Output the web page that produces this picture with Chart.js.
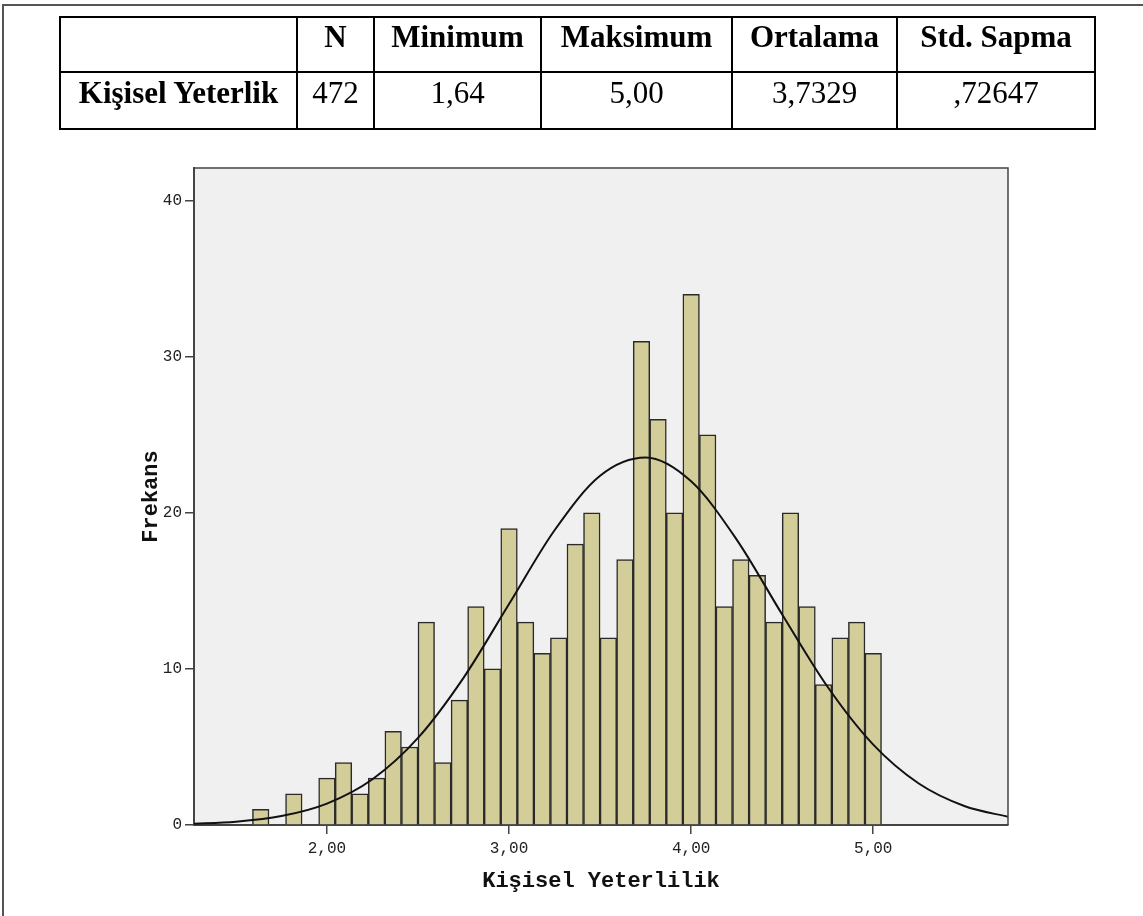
<!DOCTYPE html>
<html>
<head>
<meta charset="utf-8">
<title>Kişisel Yeterlilik</title>
<script src="https://cdn.jsdelivr.net/npm/chart.js"></script>
<style>
  html, body { margin: 0; padding: 0; background: #fff; }
  #page { position: relative; width: 1143px; height: 916px; overflow: hidden; }
  #frame { position: absolute; left: 2px; top: 4px; width: 1200px; height: 1000px;
           border-left: 2px solid #555; border-top: 2px solid #555; }
  #chart { position: absolute; left: 0; top: 0; }
  #table { position: absolute; left: 0; top: 0; z-index: 2; }
  .ln { position: absolute; background: #000; }
  .cell { position: absolute; font-family: "Liberation Serif", "Times New Roman", serif;
          font-size: 31px; line-height: 31px; color: #000; white-space: nowrap; text-align: center; }
  .b { font-weight: bold; }
</style>
</head>
<body>
<div id="page">
  <div id="frame"></div>
  <canvas id="chart" width="1143" height="916"></canvas>
  <div id="table"></div>
</div>
<script>
// descriptive table
const tableHead = ['', 'N', 'Minimum', 'Maksimum', 'Ortalama', 'Std. Sapma'];
const tableRow = ['Kişisel Yeterlik', '472', '1,64', '5,00', '3,7329', ',72647'];

// histogram: score values (means of 11 items) and frequencies
const binMids = [1.6364, 1.7273, 1.8182, 1.9091, 2.0000, 2.0909, 2.1818, 2.2727, 2.3636, 2.4545,
                 2.5455, 2.6364, 2.7273, 2.8182, 2.9091, 3.0000, 3.0909, 3.1818, 3.2727, 3.3636,
                 3.4545, 3.5455, 3.6364, 3.7273, 3.8182, 3.9091, 4.0000, 4.0909, 4.1818, 4.2727,
                 4.3636, 4.4545, 4.5455, 4.6364, 4.7273, 4.8182, 4.9091, 5.0000];
const counts = [1, 0, 2, 0, 3, 4, 2, 3, 6, 5,
                13, 4, 8, 14, 10, 19, 13, 11, 12, 18,
                20, 12, 17, 31, 26, 20, 34, 25, 14, 17,
                16, 13, 20, 14, 9, 12, 13, 11];

// normal curve
const curveX = [1.25, 1.5, 1.75, 2.0, 2.25, 2.5, 2.75, 3.0, 3.25, 3.5,
                3.75, 4.0, 4.25, 4.5, 4.75, 5.0, 5.25, 5.5, 5.75];
const curveY = [0.07, 0.21, 0.57, 1.37, 2.93, 5.58, 9.43, 14.16, 18.89, 22.38,
                23.55, 22.02, 18.29, 13.49, 8.84, 5.15, 2.66, 1.22, 0.50];

const yTicks = [0, 10, 20, 30, 40];
const xTicks = [2, 3, 4, 5];

// ---- table ----
const colX = [60, 297, 374, 541, 732, 897, 1095];
const rowY = [17, 72, 129];
const tbl = document.getElementById('table');
function addDiv(cls, style, text) {
  const d = document.createElement('div');
  d.className = cls;
  Object.assign(d.style, style);
  if (text !== undefined) d.textContent = text;
  tbl.appendChild(d);
}
rowY.forEach(y => addDiv('ln', {left: colX[0] - 1 + 'px', top: y - 1 + 'px', width: (colX[6] - colX[0] + 2) + 'px', height: '2px'}));
colX.forEach(x => addDiv('ln', {left: x - 1 + 'px', top: rowY[0] - 1 + 'px', width: '2px', height: (rowY[2] - rowY[0] + 2) + 'px'}));
tableHead.forEach((t, i) => addDiv('cell b', {left: colX[i] + 'px', width: (colX[i + 1] - colX[i]) + 'px', top: '21px'}, t));
tableRow.forEach((t, i) => addDiv(i === 0 ? 'cell b' : 'cell', {left: colX[i] + 'px', width: (colX[i + 1] - colX[i]) + 'px', top: '77px'}, t));

// ---- chart ----
const plotFrame = {
  id: 'plotFrame',
  beforeDraw(chart) {
    const {ctx, chartArea: a} = chart;
    ctx.save();
    ctx.fillStyle = '#f0f0f0';
    ctx.fillRect(a.left, a.top, a.right - a.left, a.bottom - a.top);
    ctx.restore();
  },
  afterDraw(chart) {
    const {ctx, chartArea: a} = chart;
    ctx.save();
    ctx.strokeStyle = '#444';
    ctx.lineWidth = 1.5;
    ctx.beginPath();
    ctx.moveTo(a.left, a.top);
    ctx.lineTo(a.right, a.top);
    ctx.lineTo(a.right, a.bottom);
    ctx.stroke();
    ctx.restore();
  }
};

const tickFont = {family: '"Liberation Mono", "Courier New", monospace', size: 16};
const titleFont = {family: '"Liberation Mono", "Courier New", monospace', size: 22, weight: 'bold'};

new Chart(document.getElementById('chart').getContext('2d'), {
  type: 'bar',
  data: {
    datasets: [{
      type: 'line',
      order: 0,
      data: curveX.map((x, i) => ({x: x, y: curveY[i]})),
      borderColor: '#111',
      borderWidth: 2,
      pointRadius: 0,
      fill: false,
      cubicInterpolationMode: 'monotone'
    }, {
      type: 'bar',
      order: 1,
      data: binMids.map((x, i) => ({x: x, y: counts[i]})),
      backgroundColor: '#d3ce99',
      borderColor: '#2a2a2a',
      borderWidth: 1.5,
      barPercentage: 1,
      categoryPercentage: 1
    }]
  },
  options: {
    responsive: false,
    animation: false,
    layout: {padding: {left: 130, right: 135, top: 168, bottom: 0}},
    plugins: {legend: {display: false}, tooltip: {enabled: false}},
    scales: {
      x: {
        type: 'linear',
        offset: false,
        min: 1.27,
        max: 5.74,
        afterFit(s) { s.height = 91; },
        afterBuildTicks(s) { s.ticks = xTicks.map(v => ({value: v})); },
        ticks: {
          font: tickFont, color: '#222', padding: 5, maxRotation: 0,
          callback: v => v.toFixed(2).replace('.', ',')
        },
        grid: {offset: false, drawOnChartArea: false, drawTicks: true, tickLength: 9, color: '#444', lineWidth: 1.5},
        border: {display: true, color: '#444', width: 2},
        title: {display: true, text: 'Kişisel Yeterlilik', font: titleFont, color: '#111',
                padding: {top: 0, bottom: 21}}
      },
      y: {
        min: 0,
        max: 42.1,
        afterFit(s) { s.width = 64; },
        afterBuildTicks(s) { s.ticks = yTicks.map(v => ({value: v})); },
        ticks: {font: tickFont, color: '#222', padding: 3},
        grid: {offset: false, drawOnChartArea: false, drawTicks: true, tickLength: 9, color: '#444', lineWidth: 1.5},
        border: {display: true, color: '#444', width: 2},
        title: {display: true, text: 'Frekans', font: titleFont, color: '#111',
                padding: {top: 8, bottom: 0}}
      }
    }
  },
  plugins: [plotFrame]
});
</script>
</body>
</html>
